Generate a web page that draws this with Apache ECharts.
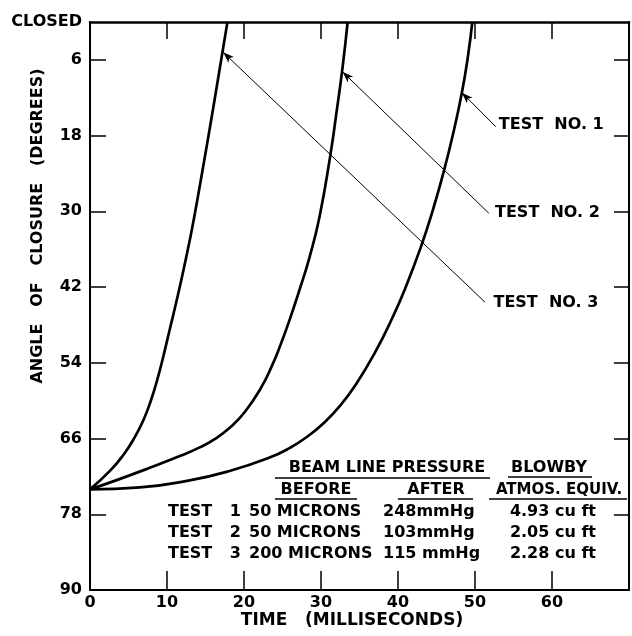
<!DOCTYPE html>
<html>
<head>
<meta charset="utf-8">
<script src="https://cdn.jsdelivr.net/npm/echarts@6/dist/echarts.min.js"></script>
<style>
html,body{margin:0;padding:0;background:#fff;}
#chart{width:632px;height:636px;}
</style>
</head>
<body>
<div id="chart"></div>
<script>
// ---- data (time ms, angle of closure degrees) ----
var test1 = [[0,74.06],[6.48,73.74],[12.95,72.63],[18.13,71.14],[23.32,69.02],[25.91,67.51],[28.11,65.8],[30.44,63.46],[32.51,60.76],[34.55,57.4],[36.92,52.58],[39.29,46.83],[41.06,41.84],[42.97,35.66],[44.43,30.19],[45.92,23.8],[47.15,17.75],[48.32,11.05],[49.09,5.39],[49.65,0]];
var test2 = [[0,74.06],[3.37,72.63],[7.77,70.63],[11.66,68.78],[14.25,67.4],[16.19,66.1],[18.26,64.17],[20.08,61.84],[22.15,58.1],[23.58,54.61],[24.74,51.16],[25.91,47.23],[27.2,42.47],[28.5,37.32],[29.79,30.98],[31.22,21.05],[32.0,14.44],[32.77,7.5],[33.46,0]];
var test3 = [[0,74.06],[2.68,71.0],[4.33,68.6],[5.62,66.2],[6.93,63.1],[7.93,59.9],[8.73,56.7],[9.4,53.6],[10.34,48.8],[11.26,44.1],[12.42,37.7],[13.46,31.4],[14.84,21.9],[16.17,12.4],[17.85,0]];
var seriesNames = ['TEST  NO. 1','TEST  NO. 2','TEST  NO. 3'];
var xTickLabels = [0,10,20,30,40,50,60];
var yTickValues = [6,18,30,42,54,66,78];
var yLabelValues = [0,6,18,30,42,54,66,78,90];
var tableHead1 = ['BEAM LINE PRESSURE','BLOWBY'];
var tableHead2 = ['BEFORE','AFTER','ATMOS. EQUIV.'];
var tableRows = [
  ['TEST','1','50 MICRONS','248mmHg','4.93 cu ft'],
  ['TEST','2','50 MICRONS','103mmHg','2.05 cu ft'],
  ['TEST','3','200 MICRONS','115 mmHg','2.28 cu ft']
];
// annotation leader lines (data coords): label end -> arrow tip, label anchor
var leaders = [
  {from:[52.7,16.6], to:[48.3,11.2], label:[53.1,16.3]},
  {from:[51.8,30.3], to:[32.8,7.9], label:[52.6,30.2]},
  {from:[51.3,44.4], to:[17.3,4.8], label:[52.4,44.5]}
];

var FONT = 'DejaVu Sans';
var chart = echarts.init(document.getElementById('chart'));

function mkSeries(data, i){
  var L = leaders[i];
  return {
    type:'line', data:data, smooth:0.5, showSymbol:false,
    lineStyle:{color:'#000', width:2.7}, itemStyle:{color:'#000'}, silent:true,
    markLine:{
      silent:true, animation:false, symbol:['none','arrow'],
      lineStyle:{color:'#000', width:1, type:'solid'},
      label:{show:false},
      data:[[{coord:L.from, symbol:'none'},{coord:L.to, symbol:'arrow', symbolSize:[6,11]}]]
    },
    markPoint:{
      silent:true, animation:false,
      data:[{coord:L.label, symbol:'circle', symbolSize:0, itemStyle:{color:'rgba(0,0,0,0)'},
        label:{show:true, position:'right', distance:0, formatter:seriesNames[i], color:'#000', fontSize:16, fontWeight:'bold', fontFamily:FONT}}]
    }
  };
}

var axisLine = {show:true, onZero:false, lineStyle:{color:'#000', width:2}};
var txt = function(text, x, y, align, size){
  return {type:'text', x:x, y:y, silent:true, style:{text:text, fill:'#000', font:'bold ' + (size||16) + 'px "DejaVu Sans"', align:align||'left', verticalAlign:'middle'}};
};
var ln = function(x1,y1,x2,y2){
  return {type:'line', silent:true, shape:{x1:x1,y1:y1,x2:x2,y2:y2}, style:{stroke:'#000', lineWidth:1.5}};
};

var graphics = [
  {type:'text', x:38, y:226, rotation:Math.PI/2, silent:true,
   style:{text:'ANGLE   OF   CLOSURE   (DEGREES)', fill:'#000', font:'bold 16px "DejaVu Sans"', align:'center', verticalAlign:'middle'}},
  {type:'text', x:352, y:621, silent:true,
   style:{text:'TIME   (MILLISECONDS)', fill:'#000', font:'bold 17px "DejaVu Sans"', align:'center', verticalAlign:'middle'}},
  txt(tableHead1[0], 387, 468, 'center'),
  txt(tableHead1[1], 549, 468, 'center'),
  ln(275,478,490,478), ln(508,477,592,477),
  txt(tableHead2[0], 316, 490, 'center'),
  txt(tableHead2[1], 436, 490, 'center'),
  txt(tableHead2[2], 559, 490, 'center', 15),
  ln(275,499,357,499), ln(398,499,473,499), ln(489,499,627,499)
];
var rowY = [512,533,554];
tableRows.forEach(function(r, i){
  var y = rowY[i];
  graphics.push(txt(r[0], 168, y, 'left'));
  graphics.push(txt(r[1], 241, y, 'right'));
  graphics.push(txt(r[2], 249, y, 'left'));
  graphics.push(txt(r[3], 383, y, 'left'));
  graphics.push(txt(r[4], 596, y, 'right'));
});

chart.setOption({
  animation:false,
  backgroundColor:'#fff',
  grid:{left:90, top:22, right:3, bottom:46, containLabel:false},
  xAxis:[
    {type:'value', min:0, max:70, interval:10, position:'bottom', axisLine:axisLine,
     axisTick:{inside:true, length:19, lineStyle:{color:'#000', width:1.5}},
     axisLabel:{customValues:xTickLabels, color:'#000', fontSize:16, fontWeight:'bold', fontFamily:FONT, margin:5},
     splitLine:{show:false}},
    {type:'value', min:0, max:70, interval:10, position:'top', axisLine:{show:true, onZero:false, lineStyle:{color:'#000', width:2.5}},
     axisTick:{inside:true, length:17, lineStyle:{color:'#000', width:1.5}},
     axisLabel:{show:false}, splitLine:{show:false}}
  ],
  yAxis:[
    {type:'value', min:0, max:90, interval:6, inverse:true, position:'left', axisLine:axisLine,
     axisTick:{inside:true, length:16, customValues:yTickValues, lineStyle:{color:'#000', width:1.5}},
     axisLabel:{customValues:yLabelValues, color:'#000', fontSize:16, fontWeight:'bold', fontFamily:FONT, margin:8,
       formatter:function(v){ return v===0 ? 'CLOSED' : String(v); }},
     splitLine:{show:false}},
    {type:'value', min:0, max:90, interval:6, inverse:true, position:'right', axisLine:axisLine,
     axisTick:{inside:true, length:15, customValues:yTickValues, lineStyle:{color:'#000', width:1.5}},
     axisLabel:{show:false}, splitLine:{show:false}}
  ],
  series:[mkSeries(test1,0), mkSeries(test2,1), mkSeries(test3,2)],
  graphic:graphics
});
</script>
</body>
</html>
